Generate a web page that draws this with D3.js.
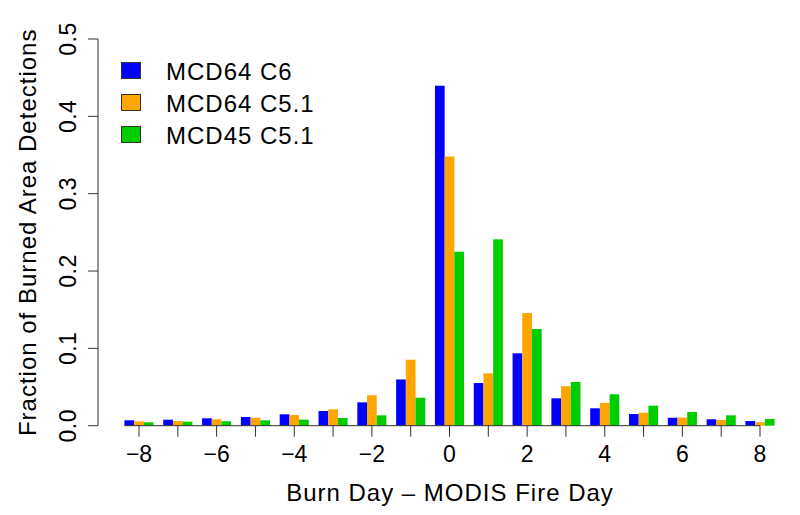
<!DOCTYPE html>
<html>
<head>
<meta charset="utf-8">
<script src="https://cdn.jsdelivr.net/npm/d3@7"></script>
<style>
  html, body { margin: 0; padding: 0; background: #fff; }
  svg { display: block; font-family: "Liberation Sans", Arial, Helvetica, sans-serif; }
</style>
</head>
<body>
<svg id="chart" width="800" height="515"></svg>
<script>
// ---- data ----
const days = [-8,-7,-6,-5,-4,-3,-2,-1,0,1,2,3,4,5,6,7,8];
const seriesNames = ["MCD64 C6", "MCD64 C5.1", "MCD45 C5.1"];
const seriesColors = ["#0000FF", "#FFA500", "#00CD00"];
const mcd64c6  = [0.0070,0.0078,0.0096,0.0112,0.0147,0.0190,0.0302,0.0598,0.4396,0.0552,0.0936,0.0354,0.0225,0.0151,0.0103,0.0083,0.0060];
const mcd64c51 = [0.0057,0.0060,0.0083,0.0103,0.0138,0.0212,0.0393,0.0853,0.3480,0.0678,0.1457,0.0510,0.0294,0.0168,0.0105,0.0074,0.0045];
const mcd45c51 = [0.0044,0.0052,0.0057,0.0070,0.0078,0.0100,0.0134,0.0362,0.2250,0.2410,0.1250,0.0565,0.0406,0.0259,0.0177,0.0134,0.0087];
const xTicks = [-8,-6,-4,-2,0,2,4,6,8];
const xMinorTicks = days;
const yTicks = [0, 0.1, 0.2, 0.3, 0.4, 0.5];
const xTitle = "Burn Day \u2013 MODIS Fire Day";
const yTitle = "Fraction of Burned Area Detections";

const series = [mcd64c6, mcd64c51, mcd45c51];

const svg = d3.select("#chart");
const x = d3.scaleLinear().domain([-8, 8]).range([139, 760]);
const y = d3.scaleLinear().domain([0, 0.5]).range([425.7, 39]);
const groupW = x(1) - x(0);
const barW = groupW / 4;
const off = d3.scaleBand().domain([0,1,2]).range([-1.5*barW, 1.5*barW]);

// bars
series.forEach((vals, si) => {
  svg.append("g").selectAll("rect").data(days).join("rect")
    .attr("x", (d) => x(d) + off(si))
    .attr("width", off.bandwidth())
    .attr("y", (d, i) => y(vals[i]))
    .attr("height", (d, i) => y(0) - y(vals[i]))
    .attr("fill", seriesColors[si]);
});

const FS = 24, LS = 1.0;

// x axis
const axisCol = "#333";
const xAxisG = svg.append("g").attr("transform", `translate(0,${y(0)})`);
xAxisG.append("line")
  .attr("x1", x(-8) - 1.5*barW).attr("x2", x(8))
  .attr("y1", 0).attr("y2", 0)
  .attr("stroke", axisCol).attr("stroke-width", 1);
xAxisG.selectAll("line.tk").data(xMinorTicks).join("line").attr("class","tk")
  .attr("x1", d => x(d)).attr("x2", d => x(d))
  .attr("y1", 0).attr("y2", 11)
  .attr("stroke", axisCol).attr("stroke-width", 1);
xAxisG.selectAll("text").data(xTicks).join("text")
  .attr("x", d => x(d)).attr("y", 36)
  .attr("text-anchor", "middle")
  .attr("font-size", 23)
  .attr("fill", "#000")
  .text(d => d < 0 ? "\u2212" + Math.abs(d) : String(d));

// y axis
const yAxisG = svg.append("g").attr("transform", "translate(98,0)");
yAxisG.append("line")
  .attr("x1", 0).attr("x2", 0)
  .attr("y1", y(0)).attr("y2", y(0.5))
  .attr("stroke", axisCol).attr("stroke-width", 1);
yAxisG.selectAll("line.tk").data(yTicks).join("line").attr("class","tk")
  .attr("x1", -10).attr("x2", 0)
  .attr("y1", d => y(d)).attr("y2", d => y(d))
  .attr("stroke", axisCol).attr("stroke-width", 1);
yAxisG.selectAll("text").data(yTicks).join("text")
  .attr("transform", d => `translate(-22,${y(d)}) rotate(-90)`)
  .attr("text-anchor", "middle")
  .attr("font-size", 23)
  .attr("letter-spacing", 0.5)
  .attr("fill", "#000")
  .text(d => d3.format(".1f")(d));

// titles
svg.append("text")
  .attr("x", x(0) + LS/2).attr("y", 501)
  .attr("text-anchor", "middle")
  .attr("font-size", FS)
  .attr("letter-spacing", LS)
  .attr("fill", "#000")
  .text(xTitle);
svg.append("text")
  .attr("transform", `translate(36,${(y(0)+y(0.5))/2 + 0}) rotate(-90)`)
  .attr("text-anchor", "middle")
  .attr("font-size", FS)
  .attr("letter-spacing", LS)
  .attr("fill", "#000")
  .text(yTitle);

// legend
const legend = svg.append("g").attr("transform", "translate(121,62)");
const lg = legend.selectAll("g").data(seriesNames).join("g")
  .attr("transform", (d, i) => `translate(0,${i*32})`);
lg.append("rect")
  .attr("x", 0.5).attr("y", 0.5).attr("width", 19).attr("height", 16)
  .attr("fill", (d, i) => seriesColors[i])
  .attr("stroke", "#333").attr("stroke-width", 1);
lg.append("text")
  .attr("x", 45).attr("y", 17.5)
  .attr("font-size", FS)
  .attr("letter-spacing", LS)
  .attr("fill", "#000")
  .text(d => d);
</script>
</body>
</html>
